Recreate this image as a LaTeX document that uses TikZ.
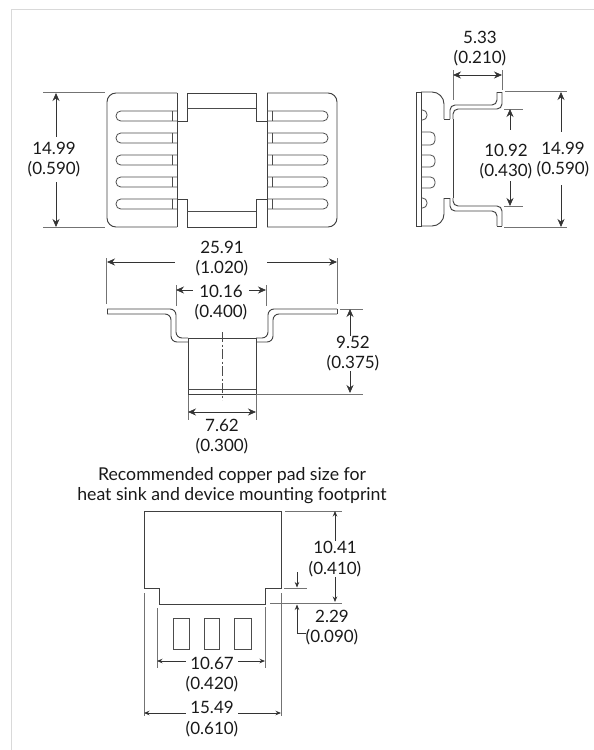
\documentclass[tikz,border=0pt]{standalone}
\usepackage{fontspec}
\setmainfont{Lato}
\usetikzlibrary{arrows.meta}

\begin{document}
\begin{tikzpicture}[x=1pt,y=-1pt,
    part/.style={draw=black!75,line width=0.95pt},
    thin part/.style={draw=black!70,line width=0.8pt},
    ext line/.style={draw=black!55,line width=0.8pt},
    dim line/.style={draw=black!80,line width=0.75pt,-{Stealth[length=8pt,width=7pt]}},
    both dim/.style={dim line,{Stealth[length=8pt,width=7pt]}-{Stealth[length=8pt,width=7pt]}},
    small dim/.style={draw=black!80,line width=0.75pt,-{Stealth[length=5.5pt,width=4.5pt]}},
    dim text/.style={align=center,inner sep=0pt,text=black!90,font=\fontsize{17}{20.5}\selectfont},
    pad title/.style={align=center,inner sep=0pt,text=black!90,font=\fontsize{17.7}{19.5}\selectfont}]

  \useasboundingbox (0,0) rectangle (594,750);
  \draw[black!15,line width=1.4pt] (11.5,750) -- (11.5,9.5) -- (594,9.5);

  % top view
  \draw[part,rounded corners=9pt] (177,93) -- (107,93) -- (107,227) -- (177,227);
  \draw[part,rounded corners=9pt] (267,93) -- (337,93) -- (337,227) -- (267,227);
  \draw[part] (177,93) -- (177,227) (267,93) -- (267,227);
  \draw[part] (177,121) -- (187,121) -- (187,93) -- (256,93) -- (256,121) -- (267,121);
  \draw[part] (177,199) -- (187,199) -- (187,227) -- (256,227) -- (256,199) -- (267,199);
  \draw[thin part] (187,108) -- (256,108) (187,211) -- (256,211);
  \foreach \y in {111,133,155,177,199} {
    \draw[thin part,rounded corners=4.8pt] (177,\y) -- (116,\y) -- (116,\y+10) -- (177,\y+10);
    \draw[thin part,rounded corners=4.8pt] (267,\y) -- (328,\y) -- (328,\y+10) -- (267,\y+10);
    \draw[thin part] (172,\y) -- (172,\y+10) (272,\y) -- (272,\y+10);
  }
  \draw[ext line] (43,92) -- (105,92) (43,227) -- (105,227);
  \node[dim text] (top h) at (54,159.5) {14.99\\(0.590)};
  \coordinate (top h a) at (56,93);
  \coordinate (top h b) at (56,227);
  \draw[dim line,shorten <=5pt] (top h.north -| top h a) -- (top h a);
  \draw[dim line,shorten <=5pt] (top h.south -| top h b) -- (top h b);

  % side view
  \draw[part,rounded corners=12pt] (421,92) -- (444,92) -- (444,119);
  \draw[part,rounded corners=12pt] (421,226) -- (444,226) -- (444,198);
  \draw[part] (416,92) rectangle (421,226);
  \draw[part] (444,119) -- (450,119) (444,198) -- (450,198);
  \draw[part,rounded corners=5pt] (450,119) -- (450,105) -- (497,105) -- (497,92);
  \draw[part] (497,92) -- (502,92);
  \draw[part,rounded corners=5pt] (502,92) -- (502,109) -- (453,109) -- (453,119);
  \draw[part,rounded corners=5pt] (450,198) -- (450,211) -- (497,211) -- (497,226);
  \draw[part] (497,226) -- (502,226);
  \draw[part,rounded corners=5pt] (502,226) -- (502,206) -- (453,206) -- (453,198);
  \draw[part] (453,119) -- (453,198);
  \foreach \ya/\yb/\xr in {110/120/427,132/145/435,155/167/435,177/188/435,198/208/427} {
    \draw[thin part,rounded corners=4.5pt] (421,\ya) -- (\xr,\ya) -- (\xr,\yb) -- (421,\yb);
  }
  \draw[ext line] (453,70) -- (453,100) (502,70) -- (502,90);
  \node[dim text] (side w) at (480,48.5) {5.33\\(0.210)};
  \coordinate (side w a) at (453,75);
  \coordinate (side w b) at (502,75);
  \draw[both dim] (side w a) -- (side w b);
  \draw[ext line] (504,109) -- (523,109) (504,206) -- (523,206);
  \node[dim text] (side g) at (506,161.5) {10.92\\(0.430)};
  \coordinate (side g a) at (510,109);
  \coordinate (side g b) at (510,206);
  \draw[dim line,shorten <=14pt] (side g.north -| side g a) -- (side g a);
  \draw[dim line,shorten <=2pt] (side g.south -| side g b) -- (side g b);
  \draw[ext line] (505,91) -- (567,91) (504,227) -- (567,227);
  \node[dim text] (side h) at (563,159.5) {14.99\\(0.590)};
  \coordinate (side h a) at (561,92);
  \coordinate (side h b) at (561,227);
  \draw[dim line,shorten <=10pt] (side h.north -| side h a) -- (side h a);
  \draw[dim line,shorten <=8pt] (side h.south -| side h b) -- (side h b);

  % front view
  \draw[part,rounded corners=6pt] (188,338) -- (176,338) -- (176,309) -- (107,309);
  \draw[part] (107,309) -- (107,314);
  \draw[part,rounded corners=6pt] (107,314) -- (171,314) -- (171,342) -- (188,342);
  \draw[part,rounded corners=6pt] (256,338) -- (268,338) -- (268,309) -- (337,309);
  \draw[part] (337,309) -- (337,314);
  \draw[part,rounded corners=6pt] (337,314) -- (273,314) -- (273,342) -- (256,342);
  \draw[part] (188,338) -- (256,338) (188,338) -- (188,394) -- (256,394) -- (256,338);
  \draw[thin part] (188,389) -- (256,389);
  \draw[thin part,dash pattern=on 10pt off 2.5pt on 2pt off 2.5pt] (222,332) -- (222,400);
  \draw[ext line] (106,258) -- (106,304) (337,258) -- (337,304);
  \node[dim text] (front w) at (222,258.5) {25.91\\(1.020)};
  \coordinate (front w a) at (107,262);
  \coordinate (front w b) at (337,262);
  \draw[dim line,shorten <=21pt] (front w.west |- front w a) -- (front w a);
  \draw[dim line,shorten <=19pt] (front w.east |- front w b) -- (front w b);
  \draw[ext line] (176,285) -- (176,306) (266,285) -- (266,306);
  \node[dim text] (front c) at (221,302.5) {10.16\\(0.400)};
  \coordinate (front c a) at (176,290);
  \coordinate (front c b) at (266,290);
  \draw[dim line,shorten <=2pt] (front c.west |- front c a) -- (front c a);
  \draw[dim line,shorten <=2pt] (front c.east |- front c b) -- (front c b);
  \draw[ext line] (340,309) -- (363,309) (256,394) -- (363,394);
  \node[dim text] (front h) at (353,353.5) {9.52\\(0.375)};
  \coordinate (front h a) at (350,309);
  \coordinate (front h b) at (350,393);
  \draw[dim line] (front h.north -| front h a) -- (front h a);
  \draw[dim line] (front h.south -| front h b) -- (front h b);
  \draw[ext line] (188,395) -- (188,420) (256,395) -- (256,420);
  \node[dim text] (front b) at (222,436.5) {7.62\\(0.300)};
  \coordinate (front b a) at (188,412);
  \coordinate (front b b) at (256,412);
  \draw[both dim] (front b a) -- (front b b);

  % footprint
  \node[pad title] (title) at (232,485.5) {Recommended copper pad size for\\heat sink and device mounting footprint};
  \draw[part] (144,588) -- (144,511) -- (281,511) -- (281,588) -- (265,588) -- (265,604) -- (159,604) -- (159,588) -- cycle;
  \foreach \xa/\xb in {173/189,204/219,234/251} {
    \draw[thin part] (\xa,618) rectangle (\xb,649);
  }
  \draw[ext line] (144,593) -- (144,716) (281,593) -- (281,716);
  \draw[ext line] (157,608) -- (157,668) (265,607) -- (265,668);
  \node[dim text] (pad c) at (212,674.5) {10.67\\(0.420)};
  \coordinate (pad c a) at (157,661);
  \coordinate (pad c b) at (265,661);
  \draw[small dim] (pad c.west |- pad c a) -- (pad c a);
  \draw[small dim] (pad c.east |- pad c b) -- (pad c b);
  \node[dim text] (pad w) at (212,719) {15.49\\(0.610)};
  \coordinate (pad w a) at (144,713);
  \coordinate (pad w b) at (281,713);
  \draw[small dim] (pad w.west |- pad w a) -- (pad w a);
  \draw[small dim] (pad w.east |- pad w b) -- (pad w b);
  \draw[ext line] (285,511) -- (342,511) (284,588) -- (307,588) (270,603) -- (342,603);
  \node[dim text] (pad h) at (335,559) {10.41\\(0.410)};
  \coordinate (pad h a) at (335,511);
  \coordinate (pad h b) at (335,602);
  \draw[small dim] (pad h.north -| pad h a) -- (pad h a);
  \draw[small dim] (pad h.south -| pad h b) -- (pad h b);
  \node[dim text] (pad s) at (332,627.5) {2.29\\(0.090)};
  \coordinate (pad s a) at (297,572);
  \coordinate (pad s b) at (297,587.5);
  \coordinate (pad s c) at (297,604.5);
  \draw[small dim] (pad s a) -- (pad s b);
  \draw[small dim] (pad s.west |- 0,633) -- (pad s c |- 0,633) -- (pad s c);
\end{tikzpicture}
\end{document}
